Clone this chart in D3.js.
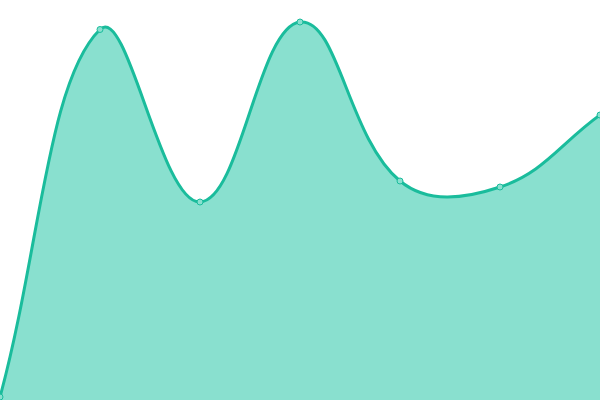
<!DOCTYPE html>
<html>
<head>
  <meta charset="utf-8">
  <script src="https://d3js.org/d3.v7.min.js"></script>
  <style>
    body { margin: 0; background: #fff; }
  </style>
</head>
<body>
  <script type="text/javascript">
    // one value per step, no axes shown
    var steps = [0, 1, 2, 3, 4, 5, 6];
    var values = [3, 370.5, 198, 378, 219, 213, 285];

    var width = 600,
        height = 400;

    // distance-weighted spline (tension 0.4), works as a d3 curve
    function splineCurve(tension) {
      return function(context) {
        return {
          areaStart: function() { this._line = 0; },
          areaEnd: function() { this._line = NaN; },
          lineStart: function() { this._pts = []; },
          point: function(x, y) { this._pts.push([+x, +y]); },
          lineEnd: function() {
            var p = this._pts, n = p.length, i;
            if (n) {
              if (this._line) context.lineTo(p[0][0], p[0][1]);
              else context.moveTo(p[0][0], p[0][1]);
            }
            var ctrl = p.map(function(cur, i) {
              var prev = p[i - 1] || cur, next = p[i + 1] || cur;
              var d01 = Math.hypot(cur[0] - prev[0], cur[1] - prev[1]),
                  d12 = Math.hypot(next[0] - cur[0], next[1] - cur[1]);
              var s01 = d01 / (d01 + d12) || 0, s12 = d12 / (d01 + d12) || 0;
              var fa = tension * s01, fb = tension * s12;
              var dx = next[0] - prev[0], dy = next[1] - prev[1];
              return {
                before: [cur[0] - fa * dx, cur[1] - fa * dy],
                after: [cur[0] + fb * dx, cur[1] + fb * dy]
              };
            });
            for (i = 0; i < n - 1; i++) {
              context.bezierCurveTo(
                ctrl[i].after[0], ctrl[i].after[1],
                ctrl[i + 1].before[0], ctrl[i + 1].before[1],
                p[i + 1][0], p[i + 1][1]);
            }
            if (this._line || (this._line !== 0 && n === 1)) context.closePath();
            this._line = 1 - this._line;
          }
        };
      };
    }

    var svg = d3.select("body")
      .append("svg")
        .attr("width", width)
        .attr("height", height);

    var x = d3.scaleLinear().domain([0, 6]).range([0, width]);
    var y = d3.scaleLinear().domain([0, 400]).range([height, 0]);

    var data = steps.map(function(s, i) { return {step: s, value: values[i]}; });

    var curve = splineCurve(0.4);

    var area = d3.area()
      .curve(curve)
      .x(function(d) { return x(d.step); })
      .y0(height)
      .y1(function(d) { return y(d.value); });

    var line = d3.line()
      .curve(curve)
      .x(function(d) { return x(d.step); })
      .y(function(d) { return y(d.value); });

    svg.append("path")
      .datum(data)
      .attr("d", area)
      .style("fill", "#89e0cf");

    svg.append("path")
      .datum(data)
      .attr("d", line)
      .style("fill", "none")
      .style("stroke", "#1abc9c")
      .style("stroke-width", 3);

    svg.selectAll("circle")
      .data(data)
      .enter().append("circle")
        .attr("cx", function(d) { return x(d.step); })
        .attr("cy", function(d) { return y(d.value); })
        .attr("r", 3)
        .style("fill", "#89e0cf")
        .style("stroke", "#1abc9c")
        .style("stroke-width", 1);
  </script>
</body>
</html>
